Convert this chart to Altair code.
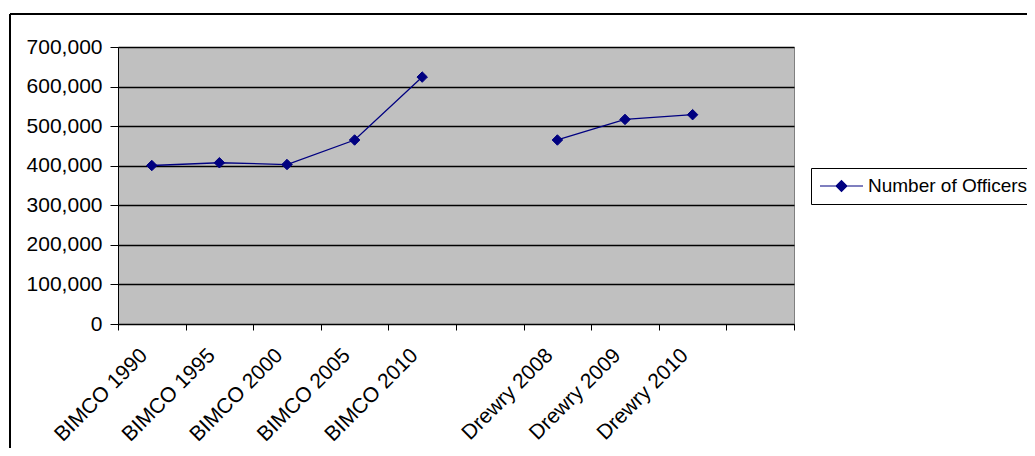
import altair as alt
import pandas as pd

categories = ["BIMCO 1990", "BIMCO 1995", "BIMCO 2000", "BIMCO 2005", "BIMCO 2010", " ",
              "Drewry 2008", "Drewry 2009", "Drewry 2010", "  "]
labels = ["BIMCO 1990", "BIMCO 1995", "BIMCO 2000", "BIMCO 2005", "BIMCO 2010",
          "Drewry 2008", "Drewry 2009", "Drewry 2010"]
groups = ["BIMCO", "BIMCO", "BIMCO", "BIMCO", "BIMCO", "Drewry", "Drewry", "Drewry"]
officers = [400500, 407500, 403000, 465000, 624000, 465000, 517000, 529000]
series_name = "Number of Officers"

df = pd.DataFrame({"label": labels, "group": groups, "value": officers,
                   "series": [series_name] * len(labels)})

FONT = "Liberation Sans"
NAVY = "#000080"
FS = 21

x_enc = alt.X("label:N", sort=categories, bandPosition=0.5,
              scale=alt.Scale(type="band", domain=categories, paddingInner=0, paddingOuter=0),
              axis=alt.Axis(title=None, tickBand="extent", labelAngle=-45, labelAlign="right",
                            labelBaseline="middle", labelPadding=22, labelOffset=-8, tickSize=6,
                            tickColor="black", domainColor="black", labelColor="black",
                            labelFont=FONT, labelFontSize=FS, grid=False))
y_enc = alt.Y("value:Q", scale=alt.Scale(domain=[0, 700000], nice=False),
              axis=alt.Axis(title=None, values=list(range(0, 700001, 100000)), format=",d",
                            tickSize=8, labelPadding=8, tickColor="black", domainColor="black",
                            labelColor="black", labelFont=FONT, labelFontSize=FS,
                            grid=True, gridColor="black", gridWidth=1.6))
color_enc = alt.Color("series:N", scale=alt.Scale(domain=[series_name], range=[NAVY]),
                      legend=alt.Legend(title=None, orient="none", legendX=693, legendY=121,
                                        strokeColor="black", fillColor="white", padding=8,
                                        symbolType="M-1,0H1M0,-0.25L0.25,0L0,0.25L-0.25,0Z",
                                        symbolSize=1849, clipHeight=20, labelOffset=4,
                                        labelLimit=500,
                                        symbolStrokeColor=NAVY, symbolFillColor=NAVY,
                                        symbolStrokeWidth=1.2,
                                        labelFont=FONT, labelFontSize=19, labelColor="black"))

line = alt.Chart(df).mark_line(strokeWidth=1.3, color=NAVY).encode(
    x=x_enc, y=y_enc, detail="group:N")
pts = alt.Chart(df).mark_point(shape="diamond", filled=True, size=110, opacity=1,
                               stroke=NAVY, strokeWidth=1).encode(
    x=x_enc, y=y_enc, color=color_enc)

frame_top = alt.Chart(df).mark_rule(color="black", strokeWidth=2).encode(
    x=alt.value(-108), x2=alt.value(930), y=alt.value(-33))
frame_left = alt.Chart(df).mark_rule(color="black", strokeWidth=2).encode(
    x=alt.value(-108), y=alt.value(-33), y2=alt.value(420))

chart = alt.layer(line, pts, frame_top, frame_left).properties(
    width=676, height=277,
    background="white",
    autosize=alt.AutoSizeParams(type="none"),
    padding={"left": 110, "top": 39, "right": 233, "bottom": 124},
).configure_view(fill="#C0C0C0", stroke="#808080", strokeWidth=1)

chart.save("out.html", embed_options={"renderer": "svg", "actions": False})
